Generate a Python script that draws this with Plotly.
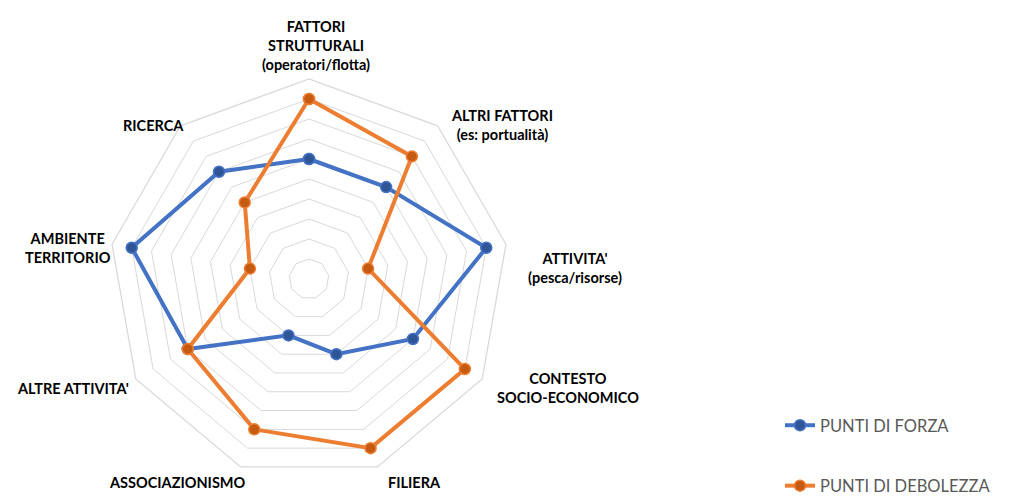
import plotly.graph_objects as go

categories = [
    "FATTORI<br>STRUTTURALI<br>(operatori/flotta)",
    "ALTRI FATTORI<br>(es: portualità)",
    "ATTIVITA'<br>(pesca/risorse)",
    "CONTESTO<br>SOCIO-ECONOMICO",
    "FILIERA",
    "ASSOCIAZIONISMO",
    "ALTRE ATTIVITA'",
    "AMBIENTE<br>TERRITORIO",
    "RICERCA",
]
forza = [6, 6, 9, 6, 4, 3, 7, 9, 7]
debolezza = [9, 8, 3, 9, 9, 8, 7, 3, 5]
series_names = ["PUNTI DI FORZA", "PUNTI DI DEBOLEZZA"]

W, H = 1011, 497
cx, cy, R = 301, 271, 200

fig = go.Figure()

def closed(v):
    return list(v) + [v[0]]

fig.add_trace(go.Scatterpolar(
    r=closed(forza), theta=closed(categories), name=series_names[0],
    mode="lines+markers", legendgroup="a",
    line=dict(color="#4472c4", width=4),
    marker=dict(color="#2f5597", size=11, line=dict(color="#4472c4", width=1.5)),
))
fig.add_trace(go.Scatterpolar(
    r=closed(debolezza), theta=closed(categories), name=series_names[1],
    mode="lines+markers", legendgroup="b",
    line=dict(color="#ed7d31", width=4),
    marker=dict(color="#c55a11", size=11, line=dict(color="#ed7d31", width=1.5)),
))

label_pos = [
    (308, 37), (494, 117), (567, 260), (560, 380), (406, 474),
    (169, 474), (65, 380), (60, 240), (145, 117),
]
annotations = []
for txt, (px, py) in zip(categories, label_pos):
    bold = "<br>".join("<b>" + s + "</b>" for s in txt.split("<br>"))
    annotations.append(dict(
        text=bold, x=px / W, y=1 - py / H, xref="paper", yref="paper",
        xanchor="center", yanchor="middle", showarrow=False, align="center",
        font=dict(family="Lato", size=14.5, color="#000000"),
    ))

fig.update_layout(
    width=W, height=H,
    margin=dict(l=0, r=0, t=0, b=0),
    paper_bgcolor="white", plot_bgcolor="white",
    annotations=annotations,
    polar=dict(
        domain=dict(x=[(cx - R) / W, (cx + R) / W], y=[1 - (cy + R) / H, 1 - (cy - R) / H]),
        bgcolor="white",
        gridshape="linear",
        radialaxis=dict(range=[0, 10], dtick=1, showticklabels=False, ticks="",
                        showline=False, gridcolor="#d9d9d9", gridwidth=1.3),
        angularaxis=dict(rotation=90, direction="clockwise", showgrid=False,
                         showticklabels=False, ticks="", showline=True,
                         linecolor="#d9d9d9", linewidth=1.3),
    ),
    legend=dict(x=772 / W, y=1 - 400 / H, xanchor="left", yanchor="top",
                tracegroupgap=36, font=dict(family="Lato", size=16.5, color="#595959"),
                bgcolor="rgba(0,0,0,0)"),
    showlegend=True,
)

fig.write_html("out.html")
